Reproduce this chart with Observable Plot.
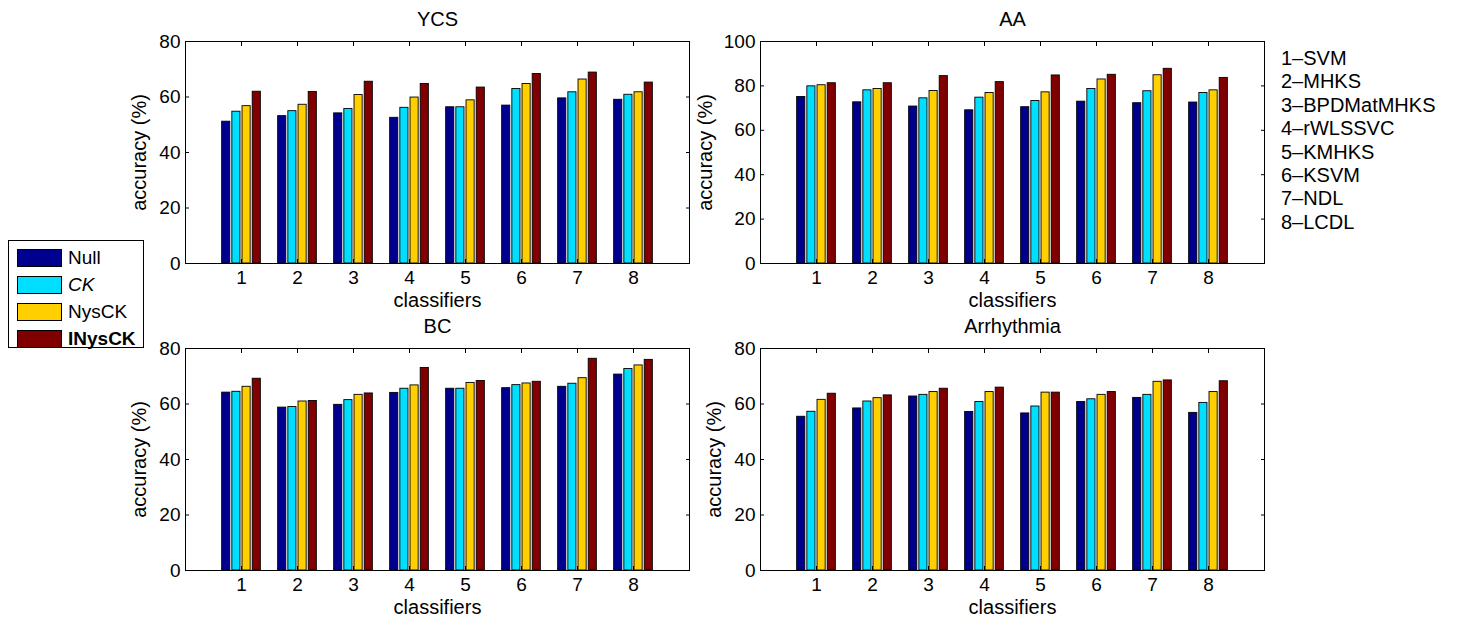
<!DOCTYPE html>
<html><head><meta charset="utf-8">
<script src="https://cdn.jsdelivr.net/npm/d3@7"></script>
<script src="https://cdn.jsdelivr.net/npm/@observablehq/plot@0.6"></script>
<style>
body{margin:0;background:#fff;overflow:hidden;font-family:"Liberation Sans",Arial,sans-serif;}
#fig{position:relative;width:1457px;height:619px;background:#fff;}
.panel{position:absolute;}
.panel svg{max-width:none;}
#legend{position:absolute;left:8px;top:240px;width:134px;height:106px;border:1px solid #000;background:#fff;}
.lrow{position:absolute;left:8px;height:18px;display:flex;align-items:center;}
.sw{width:43px;height:16px;border:1px solid #000;margin-right:6px;}
.lt{font-size:19px;color:#000;}
#names{position:absolute;left:1281px;top:47px;font-size:20px;line-height:23.4px;color:#000;white-space:pre;}
</style></head><body><div id="fig"></div>
<script>
const classifiers = [1, 2, 3, 4, 5, 6, 7, 8];
const classifierNames = ["SVM", "MHKS", "BPDMatMHKS", "rWLSSVC", "KMHKS", "KSVM", "NDL", "LCDL"];
const methods = ["Null", "CK", "NysCK", "INysCK"];
const methodStyles = ["normal", "italic", "normal", "bold"];
const colors = ["#00008F", "#00DFFF", "#FFCF00", "#800000"];
const yTicks80 = [0, 20, 40, 60, 80];
const yTicks100 = [0, 20, 40, 60, 80, 100];

const ycsNull   = [51.1, 53.1, 54.1, 52.5, 56.3, 56.9, 59.5, 59.0];
const ycsCK     = [54.7, 54.9, 55.7, 56.1, 56.3, 62.9, 61.7, 60.8];
const ycsNysCK  = [56.7, 57.2, 60.7, 59.8, 58.8, 64.7, 66.3, 61.7];
const ycsINysCK = [61.9, 61.8, 65.5, 64.7, 63.4, 68.3, 68.8, 65.2];

const aaNull   = [75.0, 72.6, 70.7, 69.0, 70.4, 72.9, 72.2, 72.5];
const aaCK     = [79.8, 78.0, 74.4, 74.7, 73.2, 78.6, 77.6, 76.8];
const aaNysCK  = [80.3, 78.6, 77.7, 76.8, 77.1, 82.9, 84.8, 78.0];
const aaINysCK = [81.2, 81.2, 84.4, 81.7, 84.7, 85.0, 87.7, 83.6];

const bcNull   = [64.1, 58.7, 59.7, 64.0, 65.5, 65.7, 66.2, 70.6];
const bcCK     = [64.4, 58.9, 61.4, 65.5, 65.5, 66.8, 67.3, 72.6];
const bcNysCK  = [66.2, 60.9, 63.3, 66.7, 67.6, 67.4, 69.3, 73.9];
const bcINysCK = [69.1, 61.1, 63.8, 73.0, 68.3, 68.0, 76.3, 75.9];

const arNull   = [55.4, 58.4, 62.7, 57.1, 56.6, 60.7, 62.2, 56.8];
const arCK     = [57.2, 60.9, 63.3, 60.7, 59.1, 61.7, 63.3, 60.4];
const arNysCK  = [61.5, 62.1, 64.3, 64.3, 64.1, 63.3, 68.0, 64.3];
const arINysCK = [63.7, 63.1, 65.5, 65.9, 64.1, 64.3, 68.5, 68.2];

const fig = document.getElementById("fig");
const FONT = "'Liberation Sans', Arial, sans-serif";
const groupWidth = 4 / 5.5, slot = groupWidth / 4, barW = slot * 0.8;
const blank = () => "";

function panel(title, series, yTicks, left, top, labelDx) {
  const data = [];
  methods.forEach((m, j) => series[j].forEach((v, i) => data.push({cls: classifiers[i], method: m, j, value: v})));
  const p = Plot.plot({
    width: 709, height: 323,
    marginLeft: 185, marginRight: 20, marginTop: 41, marginBottom: 60,
    x: {domain: [0, 9], label: null},
    y: {domain: [0, yTicks[yTicks.length - 1]], label: null},
    color: {domain: methods, range: colors},
    style: {fontFamily: FONT, fontSize: "19px", background: "transparent", color: "#000", overflow: "visible"},
    marks: [
      Plot.rectY(data, {
        x1: d => d.cls + (d.j - 1.5) * slot - barW / 2,
        x2: d => d.cls + (d.j - 1.5) * slot + barW / 2,
        y1: 0, y2: "value", fill: "method", stroke: "#000", strokeWidth: 0.9
      }),
      Plot.frame({stroke: "#000", strokeWidth: 1}),
      Plot.axisX(classifiers, {anchor: "bottom", tickSize: -4, tickFormat: blank, label: null, stroke: "#000"}),
      Plot.axisX(classifiers, {anchor: "top", tickSize: -4, tickFormat: blank, label: null, stroke: "#000"}),
      Plot.axisX(classifiers, {anchor: "bottom", tickSize: 0, tickPadding: 7, label: null, fill: "#000", fontSize: 19}),
      Plot.axisY(yTicks, {anchor: "left", tickSize: -4, tickFormat: blank, label: null, stroke: "#000"}),
      Plot.axisY(yTicks, {anchor: "right", tickSize: -4, tickFormat: blank, label: null, stroke: "#000"}),
      Plot.axisY(yTicks, {anchor: "left", tickSize: 0, tickPadding: 5, label: null, fill: "#000", fontSize: 19}),
      Plot.text([title], {text: d => d, frameAnchor: "top", lineAnchor: "middle", textAnchor: "middle", dy: -22, fontSize: 20, fill: "#000"}),
      Plot.text(["classifiers"], {text: d => d, frameAnchor: "bottom", lineAnchor: "middle", textAnchor: "middle", dy: 37, fontSize: 20, fill: "#000"}),
      Plot.text(["accuracy (%)"], {text: d => d, frameAnchor: "left", lineAnchor: "middle", textAnchor: "middle", dx: labelDx, rotate: -90, fontSize: 20, fill: "#000"})
    ]
  });
  const div = document.createElement("div");
  div.className = "panel";
  div.style.left = left + "px";
  div.style.top = top + "px";
  div.appendChild(p);
  fig.appendChild(div);
}

panel("YCS", [ycsNull, ycsCK, ycsNysCK, ycsINysCK], yTicks80, 0, 0, -46);
panel("AA", [aaNull, aaCK, aaNysCK, aaINysCK], yTicks100, 575, 0, -55);
panel("BC", [bcNull, bcCK, bcNysCK, bcINysCK], yTicks80, 0, 307, -46);
panel("Arrhythmia", [arNull, arCK, arNysCK, arINysCK], yTicks80, 575, 307, -46);

// legend
const legend = document.createElement("div");
legend.id = "legend";
methods.forEach((m, i) => {
  const row = document.createElement("div");
  row.className = "lrow";
  row.style.top = (8 + i * 27) + "px";
  const sw = document.createElement("div");
  sw.className = "sw";
  sw.style.background = colors[i];
  const t = document.createElement("span");
  t.className = "lt";
  t.textContent = m;
  if (methodStyles[i] === "italic") t.style.fontStyle = "italic";
  if (methodStyles[i] === "bold") t.style.fontWeight = "bold";
  row.appendChild(sw); row.appendChild(t);
  legend.appendChild(row);
});
fig.appendChild(legend);

// classifier names
const names = document.createElement("div");
names.id = "names";
names.textContent = classifierNames.map((n, i) => `${classifiers[i]}\u2013${n}`).join("\n");
fig.appendChild(names);
</script></body></html>
